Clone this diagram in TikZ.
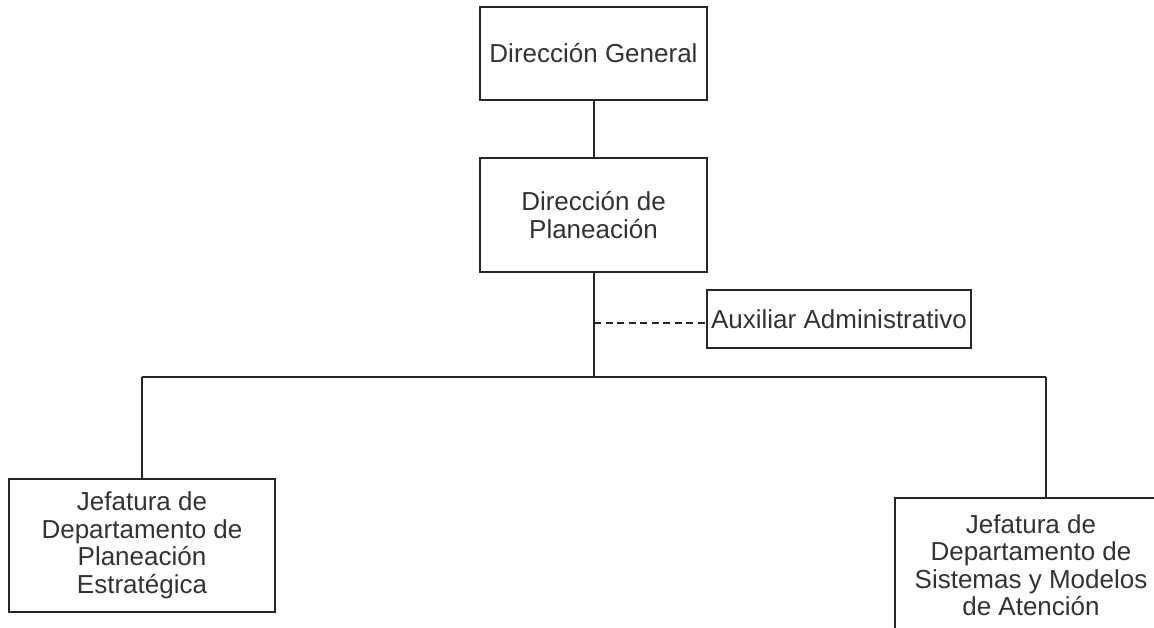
\documentclass[tikz,border=0pt]{standalone}
\usepackage{fontspec}
\setmainfont{Liberation Sans}
\begin{document}
\begin{tikzpicture}[x=1pt,y=-1pt,
  ink/.style={draw=black!85,line width=1.6pt},
  orgbox/.style={ink,fill=white,rectangle,inner sep=0pt,align=center,
    font=\fontsize{26}{27.5}\selectfont,text=black!80},
  link/.style={ink},
  dashlink/.style={draw=black!85,line width=1.3pt,dash pattern=on 7pt off 4.5pt}]
\clip (0,0) rectangle (1154,627);
\fill[white] (0,0) rectangle (1154,627);
\node[orgbox,minimum width=227pt,minimum height=93pt] (dg) at (593.5,53.5) {Dirección General};
\node[orgbox,minimum width=227pt,minimum height=114pt] (dp) at (593.5,215) {Dirección de\\Planeación};
\node[orgbox,minimum width=264pt,minimum height=58pt] (aux) at (839,319) {Auxiliar Administrativo};
\node[orgbox,minimum width=266pt,minimum height=133pt] (pe) at (142,545.5) {Jefatura de\\Departamento de\\Planeación\\Estratégica};
\node[orgbox,minimum width=272pt,minimum height=134pt] (sm) at (1031,565) {Jefatura de\\Departamento de\\Sistemas y Modelos\\de Atención};
\coordinate (bus) at (594,377);
\coordinate (busL) at (142,377);
\coordinate (busR) at (1046,377);
\coordinate (dashs) at (594,323);
\draw[link] (dg.south -| bus) -- (dp.north -| bus);
\draw[link] (dp.south -| bus) -- (bus);
\draw[link] (busL) -- (busR);
\draw[link] (busL) -- (pe.north -| busL);
\draw[link] (busR) -- (sm.north -| busR);
\draw[dashlink] (dashs) -- (aux.west |- dashs);
\end{tikzpicture}
\end{document}
